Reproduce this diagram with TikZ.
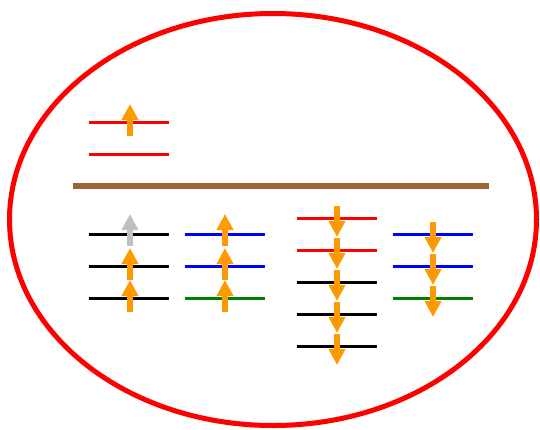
\documentclass[tikz,border=0pt]{standalone}
\usetikzlibrary{arrows.meta}
\definecolor{arr}{HTML}{FF9900}
\definecolor{gry}{HTML}{C0C0C0}
\definecolor{brn}{HTML}{996633}
\definecolor{grn}{HTML}{008000}
\tikzset{
  level/.style={line width=3pt},
  spin/.style={line width=6pt, -{Triangle[width=16pt,length=16pt]}, arr},
}
\begin{document}
\begin{tikzpicture}[x=1pt,y=-1pt]
\useasboundingbox (0,0) rectangle (540,429);
\draw[red, line width=5pt] (273,219.5) ellipse [x radius=263.5, y radius=206];
% top-left
\draw[level, red] (89,122) -- (169,122);
\draw[level, red] (89,154) -- (169,154);
\draw[spin] (130,136) -- (130,104);
% brown line
\draw[brn, line width=5.5pt] (73,186) -- (489,186);
% group 1
\foreach \y in {234,266,298} \draw[level, black] (89,\y) -- (169,\y);
\draw[spin, gry] (130,246) -- (130,214);
\draw[spin] (130,280) -- (130,248);
\draw[spin] (130,312) -- (130,280);
% group 2
\draw[level, blue] (185,234) -- (265,234);
\draw[level, blue] (185,266) -- (265,266);
\draw[level, grn] (185,298) -- (265,298);
\draw[spin] (225,246) -- (225,214);
\draw[spin] (225,280) -- (225,248);
\draw[spin] (225,312) -- (225,280);
% group 3
\draw[level, red] (297,218) -- (377,218);
\draw[level, red] (297,250) -- (377,250);
\foreach \y in {282,314,346} \draw[level, black] (297,\y) -- (377,\y);
\foreach \s in {206,238,270,302,334} \draw[spin] (337,\s) -- (337,\s+31);
% group 4
\draw[level, blue] (393,234) -- (473,234);
\draw[level, blue] (393,266) -- (473,266);
\draw[level, grn] (393,298) -- (473,298);
\foreach \s in {222,254,286} \draw[spin] (433,\s) -- (433,\s+31);
\end{tikzpicture}
\end{document}
